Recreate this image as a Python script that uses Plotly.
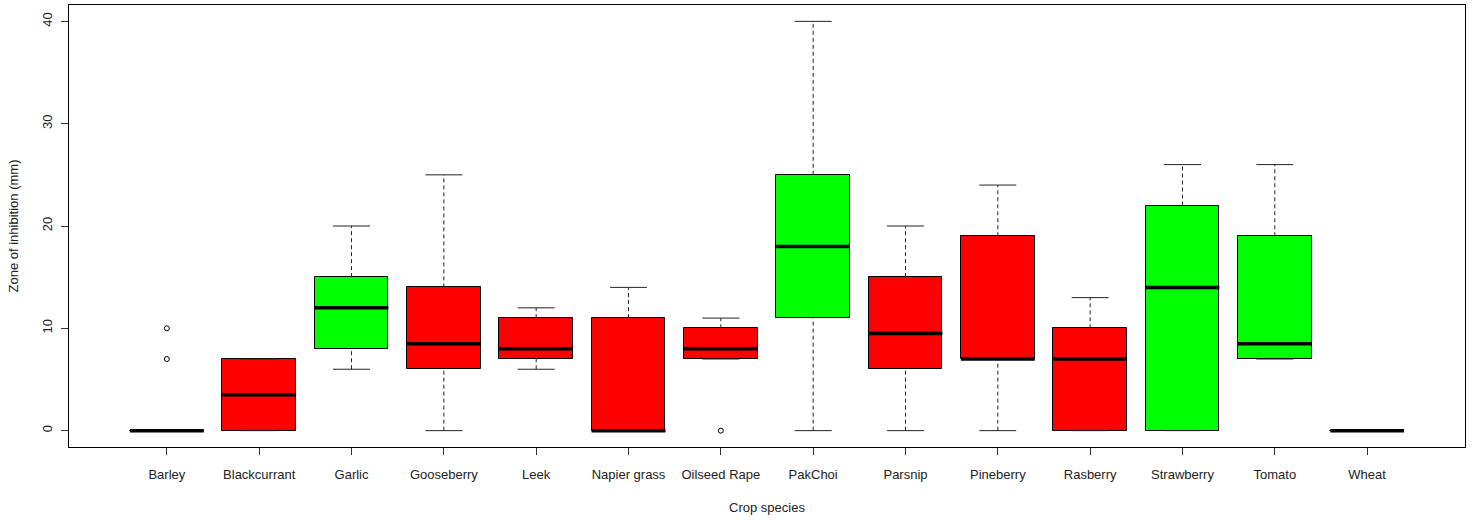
import plotly.graph_objects as go

# Summary statistics per crop (zone of inhibition, mm)
crops = ["Barley", "Blackcurrant", "Garlic", "Gooseberry", "Leek", "Napier grass",
         "Oilseed Rape", "PakChoi", "Parsnip", "Pineberry", "Rasberry",
         "Strawberry", "Tomato", "Wheat"]
lower_whisker = [0, 0, 6, 0, 6, 0, 7, 0, 0, 0, 0, 0, 7, 0]
q1 = [0, 0, 8, 6, 7, 0, 7, 11, 6, 7, 0, 0, 7, 0]
median = [0, 3.5, 12, 8.5, 8, 0, 8, 18, 9.5, 7, 7, 14, 8.5, 0]
q3 = [0, 7, 15, 14, 11, 11, 10, 25, 15, 19, 10, 22, 19, 0]
upper_whisker = [0, 7, 20, 25, 12, 14, 11, 40, 20, 24, 13, 26, 26, 0]
box_colors = ["#FF0000", "#FF0000", "#00FF00", "#FF0000", "#FF0000", "#FF0000",
              "#FF0000", "#00FF00", "#FF0000", "#FF0000", "#FF0000",
              "#00FF00", "#00FF00", "#FF0000"]
outlier_crop = ["Barley", "Barley", "Oilseed Rape"]
outlier_value = [10, 7, 0]

pos = list(range(1, len(crops) + 1))
box_half = 0.4
cap_half = 0.2

fig = go.Figure()

# Dashed whiskers
wx, wy = [], []
for x, lo, a, b, hi in zip(pos, lower_whisker, q1, q3, upper_whisker):
    if hi > b:
        wx += [x, x, None]
        wy += [b, hi, None]
    if lo < a:
        wx += [x, x, None]
        wy += [lo, a, None]
fig.add_trace(go.Scatter(x=wx, y=wy, mode="lines",
                         line=dict(color="#222222", width=1, dash="4px,3px"),
                         hoverinfo="skip", showlegend=False))

# Whisker caps
cx, cy = [], []
for x, lo, hi in zip(pos, lower_whisker, upper_whisker):
    for v in (lo, hi):
        cx += [x - cap_half, x + cap_half, None]
        cy += [v, v, None]
fig.add_trace(go.Scatter(x=cx, y=cy, mode="lines",
                         line=dict(color="#222222", width=1),
                         hoverinfo="skip", showlegend=False))

# Boxes (interquartile range)
fig.add_trace(go.Bar(x=pos, base=q1, y=[b - a for a, b in zip(q1, q3)],
                     width=2 * box_half, marker=dict(color=box_colors,
                                                     line=dict(color="black", width=1)),
                     hoverinfo="skip", showlegend=False))

# Median lines
mx, my = [], []
for x, m in zip(pos, median):
    mx += [x - box_half, x + box_half, None]
    my += [m, m, None]
fig.add_trace(go.Scatter(x=mx, y=my, mode="lines",
                         line=dict(color="black", width=3.5),
                         hoverinfo="skip", showlegend=False))

# Outliers
fig.add_trace(go.Scatter(x=[crops.index(c) + 1 for c in outlier_crop], y=outlier_value,
                         mode="markers",
                         marker=dict(symbol="circle-open", size=5,
                                     color="black", line=dict(width=1)),
                         hoverinfo="skip", showlegend=False))

family = "Liberation Sans, Arial, sans-serif"
text_color = "#222222"
label_font = dict(family=family, size=13, color=text_color)

fig.update_layout(
    width=1473, height=520,
    margin=dict(l=69, r=8, t=5, b=73),
    plot_bgcolor="white", paper_bgcolor="white",
    font=label_font,
    bargap=0,
)
fig.update_xaxes(
    range=[-0.06, 15.06], tickmode="array", tickvals=pos, ticktext=crops,
    tickfont=label_font,
    showline=True, linecolor="black", linewidth=1, mirror=True,
    ticks="outside", ticklen=7, tickcolor="#333333",
    ticklabelstandoff=8,
    showgrid=False, zeroline=False,
    title=dict(text="Crop species", standoff=22, font=label_font),
)
fig.update_yaxes(
    range=[-1.6, 41.6], tickmode="array", tickvals=[0, 10, 20, 30, 40],
    tickfont=label_font,
    tickangle=-90, ticklabelstandoff=4,
    showline=True, linecolor="black", linewidth=1, mirror=True,
    ticks="outside", ticklen=7, tickcolor="#333333",
    showgrid=False, zeroline=False,
    title=dict(text="Zone of inhibition (mm)", standoff=18, font=label_font),
)

fig.write_html("out.html")
